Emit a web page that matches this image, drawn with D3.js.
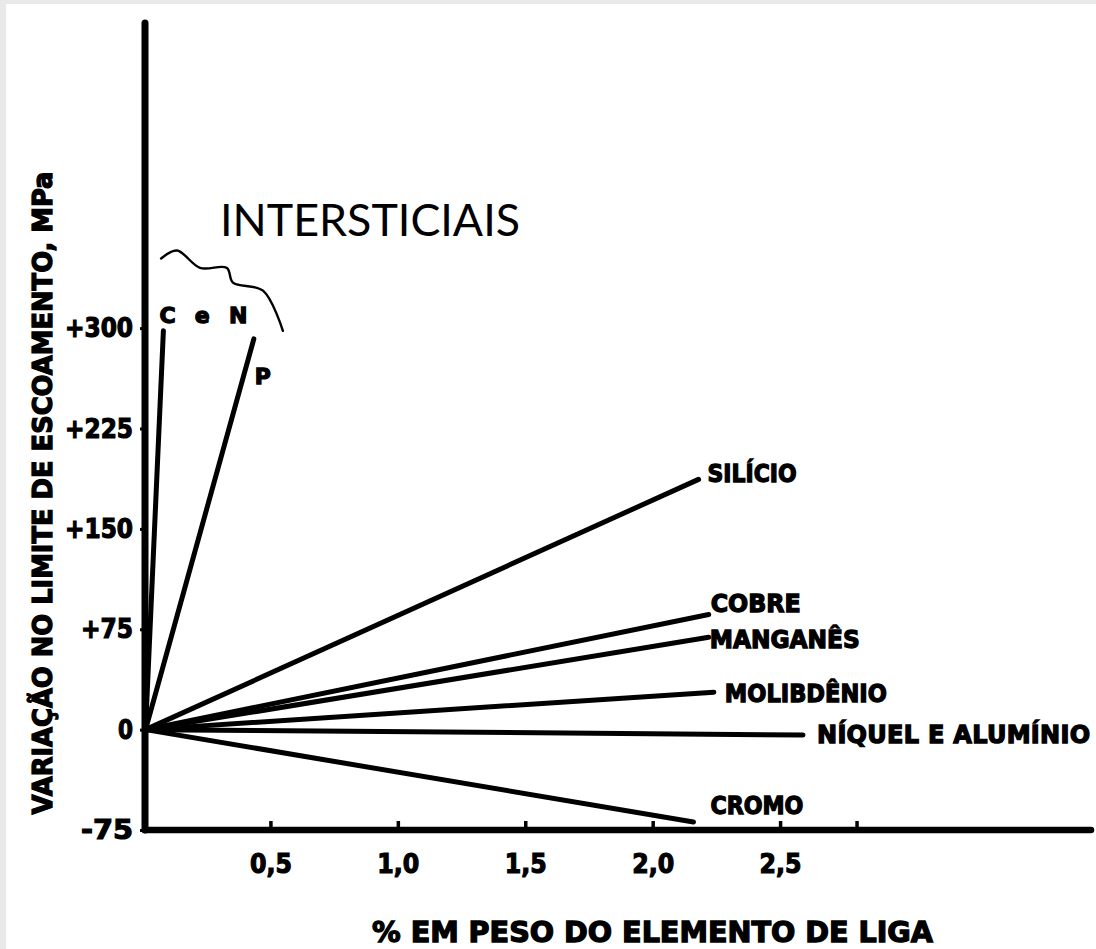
<!DOCTYPE html>
<html>
<head>
<meta charset="utf-8">
<script src="https://cdn.jsdelivr.net/npm/d3@7"></script>
<style>
  body { margin: 0; background: #fff; }
  svg { display: block; }
</style>
</head>
<body>
<svg id="chart" width="1096" height="949"></svg>
<script>
// values (yield strength change vs. alloy wt%)
let elements = ["C e N", "P", "SILÍCIO", "COBRE", "MANGANÊS", "MOLIBDÊNIO", "NÍQUEL E ALUMÍNIO", "CROMO"];
let endPercent = [0.08, 0.435, 2.18, 2.22, 2.22, 2.24, 2.59, 2.16];
let endMPa = [298, 292, 187, 86, 69, 28, -4, -69];

let xTickValues = [0.5, 1.0, 1.5, 2.0, 2.5, 2.8];
let xTickLabels = ["0,5", "1,0", "1,5", "2,0", "2,5", ""];
let yTickValues = [300, 225, 150, 75, 0, -75];
let yTickLabels = ["+300", "+225", "+150", "+75", "0", "-75"];

// the hand-drawn brace over C, N and P (in data units)
let bracePercent = [0.071, 0.133, 0.224, 0.329, 0.353, 0.471, 0.549];
let braceMPa = [352, 358, 345, 345, 334, 328, 298];

// label placement relative to the end of each line: dx, dy (px) and width
let labelStyle = [
  { dx: -4, dy: -8, w: 88, size: 22, adjust: "spacing" },
  { dx: 1, dy: 45, w: 16, size: 22, adjust: "spacingAndGlyphs" },
  { dx: 9, dy: 3, w: 89, size: 24, adjust: "spacingAndGlyphs" },
  { dx: 2, dy: -3, w: 90, size: 24, adjust: "spacingAndGlyphs" },
  { dx: 1, dy: 11, w: 150, size: 24, adjust: "spacingAndGlyphs" },
  { dx: 11, dy: 10, w: 162, size: 24, adjust: "spacingAndGlyphs" },
  { dx: 14, dy: 8, w: 273, size: 24, adjust: "spacing" },
  { dx: 17, dy: -8, w: 93, size: 24, adjust: "spacingAndGlyphs" }
];

let svg = d3.select("#chart");
let font = "'DejaVu Sans', Verdana, sans-serif";

// scanner margin on the top and left
svg.append("rect").attr("x", 0).attr("y", 0).attr("width", 1096).attr("height", 4).attr("fill", "#e9e9e9");
svg.append("rect").attr("x", 0).attr("y", 0).attr("width", 6).attr("height", 949).attr("fill", "#e9e9e9");

let xScale = d3.scaleLinear().domain([0, 3.72]).range([143, 1091]);
let yScale = d3.scaleLinear().domain([-75, 528]).range([830, 23]);

// x axis: little ticks pointing up, labels below
let xAxis = svg.append("g")
  .attr("transform", `translate(0,${yScale(-75)})`)
  .call(d3.axisBottom(xScale)
    .tickValues(xTickValues)
    .tickFormat((d, i) => xTickLabels[i])
    .tickSize(-9)
    .tickPadding(24));
xAxis.select(".domain").remove();
xAxis.selectAll(".tick line").attr("stroke", "#000").attr("stroke-width", 3.5);
xAxis.selectAll(".tick text")
  .attr("font-family", font).attr("font-weight", "bold").attr("font-size", 27)
  .attr("fill", "#000").attr("stroke", "#000").attr("stroke-width", 1.2)
  .attr("textLength", 42).attr("lengthAdjust", "spacingAndGlyphs");

// y axis: small notches to the left
let yAxis = svg.append("g")
  .attr("transform", `translate(${xScale(0) + 2},0)`)
  .call(d3.axisLeft(yScale)
    .tickValues(yTickValues)
    .tickFormat((d, i) => yTickLabels[i])
    .tickSize(5)
    .tickPadding(7));
yAxis.select(".domain").remove();
yAxis.selectAll(".tick line").attr("stroke", "#000").attr("stroke-width", 3);
yAxis.selectAll(".tick text")
  .attr("font-family", font).attr("font-weight", "bold").attr("font-size", 27)
  .attr("fill", "#000").attr("stroke", "#000").attr("stroke-width", 1.2)
  .attr("lengthAdjust", "spacingAndGlyphs")
  .attr("textLength", (d, i) => [68, 68, 68, 52, 15, 52][i]);

// thick axis lines drawn by hand in the original
svg.append("line")
  .attr("x1", xScale(0) + 2).attr("y1", yScale(528))
  .attr("x2", xScale(0) + 2).attr("y2", yScale(-75))
  .attr("stroke", "#000").attr("stroke-width", 7).attr("stroke-linecap", "round");
svg.append("line")
  .attr("x1", xScale(0) + 2).attr("y1", yScale(-75))
  .attr("x2", xScale(3.72)).attr("y2", yScale(-75))
  .attr("stroke", "#000").attr("stroke-width", 6.5).attr("stroke-linecap", "round");

// one straight line per element, starting at the origin
let lineGen = d3.line()
  .x(d => xScale(d[0]))
  .y(d => yScale(d[1]));

elements.forEach((name, i) => {
  svg.append("path")
    .datum([[0.01, 0], [endPercent[i], endMPa[i]]])
    .attr("fill", "none")
    .attr("stroke", "#000")
    .attr("stroke-width", 5)
    .attr("stroke-linecap", "round")
    .attr("d", lineGen);

  let s = labelStyle[i];
  svg.append("text")
    .attr("x", xScale(endPercent[i]) + s.dx)
    .attr("y", yScale(endMPa[i]) + s.dy)
    .attr("font-family", font)
    .attr("font-weight", "bold")
    .attr("font-size", s.size)
    .attr("fill", "#000")
    .attr("stroke", "#000")
    .attr("stroke-width", 1.3)
    .attr("textLength", s.w)
    .attr("lengthAdjust", s.adjust)
    .text(name);
});

// brace and handwritten note
svg.append("path")
  .datum(bracePercent.map((p, i) => [p, braceMPa[i]]))
  .attr("fill", "none")
  .attr("stroke", "#000")
  .attr("stroke-width", 2.4)
  .attr("stroke-linecap", "round")
  .attr("d", lineGen.curve(d3.curveCatmullRom));

svg.append("text")
  .attr("x", 220).attr("y", 236)
  .attr("font-family", "Lato, 'Open Sans', sans-serif")
  .attr("font-weight", 400)
  .attr("font-size", 44)
  .attr("fill", "#000")
  .attr("textLength", 300)
  .attr("lengthAdjust", "spacingAndGlyphs")
  .text("INTERSTICIAIS");

// axis titles
svg.append("text")
  .attr("x", 372).attr("y", 942)
  .attr("font-family", font).attr("font-weight", "bold").attr("font-size", 28)
  .attr("fill", "#000").attr("stroke", "#000").attr("stroke-width", 1.3)
  .attr("textLength", 561).attr("lengthAdjust", "spacingAndGlyphs")
  .text("% EM PESO DO ELEMENTO DE LIGA");

svg.append("text")
  .attr("transform", "translate(52,493) rotate(-90)")
  .attr("text-anchor", "middle")
  .attr("font-family", font).attr("font-weight", "bold").attr("font-size", 27)
  .attr("fill", "#000").attr("stroke", "#000").attr("stroke-width", 1.3)
  .attr("textLength", 643).attr("lengthAdjust", "spacingAndGlyphs")
  .text("VARIAÇÃO NO LIMITE DE ESCOAMENTO, MPa");
</script>
</body>
</html>
